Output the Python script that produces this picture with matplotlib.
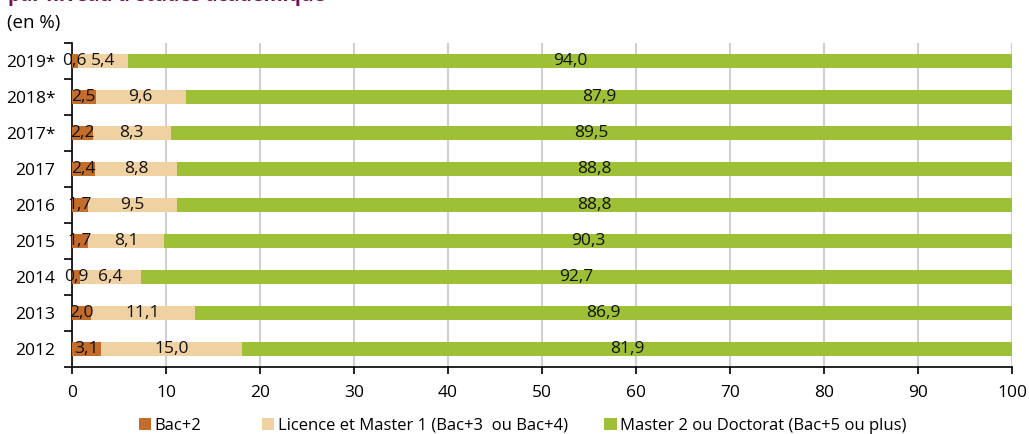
import numpy as np
import matplotlib.pyplot as plt
from matplotlib.patches import Patch

plt.rcParams['font.family'] = ['Open Sans', 'DejaVu Sans']

# donnees (en %)
annees = ['2019*', '2018*', '2017*', '2017', '2016', '2015', '2014', '2013', '2012']
bac2 = [0.6, 2.5, 2.2, 2.4, 1.7, 1.7, 0.9, 2.0, 3.1]
licence = [5.4, 9.6, 8.3, 8.8, 9.5, 8.1, 6.4, 11.1, 15.0]
master = [94.0, 87.9, 89.5, 88.8, 88.8, 90.3, 92.7, 86.9, 81.9]

noms = ['Bac+2', 'Licence et Master 1 (Bac+3  ou Bac+4)', 'Master 2 ou Doctorat (Bac+5 ou plus)']
couleurs = ['#c46d2b', '#f0d1a1', '#9dc036']

fig = plt.figure(figsize=(10.29, 4.34), dpi=100)
ax = fig.add_axes([0.070, 0.1544, 0.9135, 0.7466])

y = np.arange(len(annees))[::-1]
gauche = np.zeros(len(annees))
for serie, c in zip([bac2, licence, master], couleurs):
    serie = np.array(serie)
    ax.barh(y, serie, left=gauche, height=0.4, color=c, zorder=3)
    for yi, g, v in zip(y, gauche, serie):
        ax.text(g + v / 2, yi, f'{v:.1f}'.replace('.', ','), ha='center', va='center',
                fontsize=12.5, color='#111111', zorder=4)
    gauche = gauche + serie

ax.set_xlim(0, 100)
ax.set_ylim(-0.5, len(annees) - 0.5)
ax.set_xticks(np.arange(0, 101, 10))
ax.set_yticks(y)
ax.set_yticklabels(annees)
ax.set_yticks(np.arange(-0.5, len(annees), 1), minor=True)
ax.tick_params(axis='y', which='major', length=0, labelsize=12.5, pad=12)
ax.tick_params(axis='y', which='minor', length=6, width=1.2, direction='out')
ax.tick_params(axis='x', length=5, width=1.2, labelsize=12.5, pad=8)
ax.grid(axis='x', color='#d0d0d0', linewidth=1.5, zorder=0)
for s in ['top', 'right']:
    ax.spines[s].set_visible(False)
ax.spines['left'].set_linewidth(1.2)
ax.spines['bottom'].set_linewidth(1.2)

# titre coupe en haut de l'image
fig.text(0.008, 0.9975, "par niveau d'études académique", fontsize=14, fontweight='bold',
         color='#7a1150', va='baseline', ha='left')
fig.text(0.007, 0.947, '(en %)', fontsize=13.5, va='center', ha='left')

# legende : un element par position
x_leg = [0.135, 0.2545, 0.587]
for nom, c, xl in zip(noms, couleurs, x_leg):
    fig.legend([Patch(facecolor=c)], [nom], loc='center left', bbox_to_anchor=(xl, 0.019),
               frameon=False, fontsize=12, handlelength=0.75, handleheight=0.75,
               handletextpad=0.2, borderpad=0, borderaxespad=0)

fig.savefig('out.png', dpi=100)
